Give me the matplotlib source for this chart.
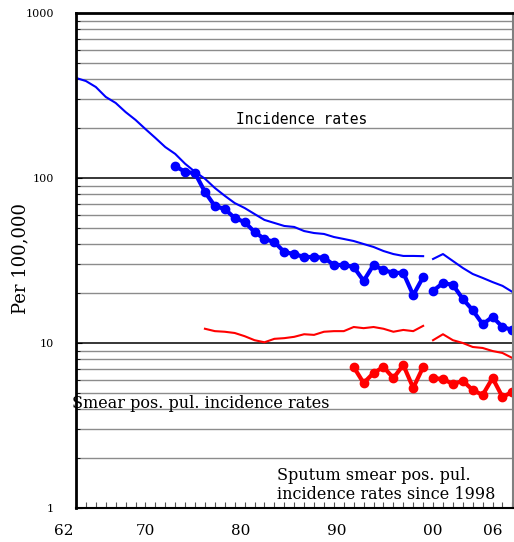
import numpy as np
import matplotlib
matplotlib.use("Agg")
import matplotlib.pyplot as plt

# incidence rates (thin blue), old series and since-2000 series
inc_years_a = list(range(1964, 2000))
inc_vals_a = [404, 387, 356, 310, 285, 251, 225, 198, 175, 154,
              140, 122, 109, 99, 87, 78, 70.5, 65.8, 60.5, 55.7,
              53.4, 51.2, 50.5, 47.7, 46.4, 45.8, 43.9, 42.7, 41.5, 39.8,
              38.2, 36.1, 34.6, 33.7, 33.7, 33.6]
inc_years_b = list(range(2000, 2009))
inc_vals_b = [32.3, 34.6, 31.4, 28.5, 26.2, 24.8, 23.4, 22.2, 20.4]

# incidence rates with markers (thick blue)
dot_years_a = list(range(1974, 2000))
dot_vals_a = [118, 109, 107, 82.3, 67.6, 64.9, 57.2, 54.1, 47.1, 42.7,
              40.9, 35.6, 34.6, 33.2, 33.2, 32.9, 29.7, 29.7, 28.9, 23.8,
              29.7, 27.7, 26.6, 26.6, 19.5, 25.1]
dot_years_b = list(range(2000, 2009))
dot_vals_b = [20.7, 23.1, 22.5, 18.5, 15.8, 13.0, 14.4, 12.5, 12.0]

# smear pos. pul. incidence rates (thin red)
smear_years_a = list(range(1977, 2000))
smear_vals_a = [12.2, 11.8, 11.7, 11.5, 11.0, 10.4, 10.1, 10.6, 10.7, 10.9,
                11.3, 11.2, 11.7, 11.8, 11.8, 12.5, 12.3, 12.5, 12.2, 11.7,
                12.0, 11.8, 12.7]
smear_years_b = list(range(2000, 2009))
smear_vals_b = [10.4, 11.3, 10.4, 10.0, 9.46, 9.33, 8.94, 8.70, 8.11]

# sputum smear pos. pul. incidence rates (thick red)
sput_years_a = list(range(1992, 2000))
sput_vals_a = [7.15, 5.72, 6.58, 7.15, 6.13, 7.36, 5.34, 7.15]
sput_years_b = list(range(2000, 2009))
sput_vals_b = [6.13, 6.05, 5.64, 5.89, 5.19, 4.84, 6.13, 4.71, 5.05]

xlabels = ['62', '70', '80', '90', '00', '06']
xlabel_pos = [1962.8, 1971.0, 1980.6, 1990.3, 2000.0, 2006.05]

SERIF = 'DejaVu Serif'

fig = plt.figure(figsize=(5.14, 5.42), dpi=100)
ax = fig.add_axes([76/514, 34/542, 437/514, 495/542])

ax.set_yscale('log')
ax.set_ylim(1, 1000)
ax.set_xlim(1964, 2008.06)

# grid
ax.yaxis.grid(True, which='minor', color='#8c8c8c', lw=1.0)
ax.yaxis.grid(True, which='major', color='black', lw=1.1)
ax.set_axisbelow(True)

BLUE = '#0000ff'
RED = '#ff0000'
for xs, ys in [(inc_years_a, inc_vals_a), (inc_years_b, inc_vals_b)]:
    ax.plot(xs, ys, color=BLUE, lw=1.5, solid_joinstyle='round')
for xs, ys in [(dot_years_a, dot_vals_a), (dot_years_b, dot_vals_b)]:
    ax.plot(xs, ys, color=BLUE, lw=3, marker='o', ms=6, solid_joinstyle='round')
for xs, ys in [(smear_years_a, smear_vals_a), (smear_years_b, smear_vals_b)]:
    ax.plot(xs, ys, color=RED, lw=1.5, solid_joinstyle='round')
for xs, ys in [(sput_years_a, sput_vals_a), (sput_years_b, sput_vals_b)]:
    ax.plot(xs, ys, color=RED, lw=3, marker='o', ms=6, solid_joinstyle='round')

# y ticks
ax.set_yticks([1, 10, 100, 1000])
ax.set_yticklabels(['1', '10', '100', '1000'], family=SERIF, fontsize=8)
ax.tick_params(axis='y', which='both', direction='in', left=True, right=False)
ax.tick_params(axis='y', which='major', length=4, pad=16)
ax.tick_params(axis='y', which='minor', length=3, labelleft=False)

# x ticks: one per year, labels placed by hand
ax.set_xticks(list(range(1965, 2009)))
ax.tick_params(axis='x', which='major', direction='in', length=4, color='#555555',
               labelbottom=False)
for lab, xp in zip(xlabels, xlabel_pos):
    ax.text(xp, -0.046, lab, transform=ax.get_xaxis_transform(),
            ha='center', va='center', family=SERIF, fontsize=11)

for side in ['left', 'top']:
    ax.spines[side].set_linewidth(2)
ax.spines['bottom'].set_linewidth(1.5)
ax.spines['right'].set_color('#808080')
ax.spines['right'].set_linewidth(1.5)

fig.text(20/514, 1 - 258/542, 'Per 100,000', rotation=90, ha='center', va='center',
         family=SERIF, fontsize=13)

ax.text(1986.7, 225, 'Incidence rates', ha='center', va='center',
        family='DejaVu Sans Mono', fontsize=10.5)
ax.text(1963.6, 4.3, 'Smear pos. pul. incidence rates', ha='left', va='center',
        family=SERIF, fontsize=11.5)
ax.text(1984.3, 1.38, 'Sputum smear pos. pul.\nincidence rates since 1998',
        ha='left', va='center', family=SERIF, fontsize=11.5, linespacing=1.2)

fig.savefig('out.png', dpi=100)
